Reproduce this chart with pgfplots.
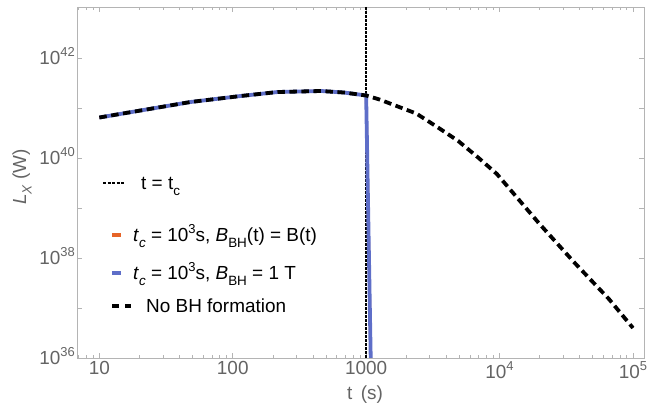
\documentclass[border=0pt]{standalone}
\usepackage{fontspec}
\setmainfont{Liberation Sans}
\usepackage{pgfplots}
\pgfplotsset{compat=1.18}
\definecolor{myorange}{RGB}{230,100,40}
\definecolor{myblue}{RGB}{94,110,200}
\definecolor{framegray}{RGB}{180,180,180}
\definecolor{labgray}{RGB}{100,100,100}
\newcommand\sups[1]{\raisebox{0.45em}{\fontsize{13}{14}\selectfont #1}}
\newcommand\subs[1]{\raisebox{-0.28em}{\fontsize{13.5}{14}\selectfont #1}}
\newcommand\fs{\fontsize{19}{21}\selectfont}
\begin{document}
\begin{tikzpicture}
\begin{axis}[
  at={(0,0)}, anchor=south west,
  scale only axis, width=567bp, height=351bp,
  xmode=log, ymode=log,
  xmin=6.8, xmax=1.21e5, ymin=1e36, ymax=1.05e43,
  axis line style={framegray, line width=0.8bp},
  every tick/.style={framegray, line width=0.8bp},
  major tick length=5bp, minor tick length=3bp,
  xtick={10,100,1000,10000,100000},
  xticklabels={10,100,1000,10\sups{4},10\sups{5}},
  minor xtick={7,8,9,20,30,40,50,60,70,80,90,200,300,400,500,600,700,800,900,2000,3000,4000,5000,6000,7000,8000,9000,20000,30000,40000,50000,60000,70000,80000,90000},
  ytick={1e36,1e37,1e38,1e39,1e40,1e41,1e42},
  yticklabels={10\sups{36},,10\sups{38},,10\sups{40},,10\sups{42}},
  yminorticks=false,
  tick label style={font=\fs, color=labgray},
  yticklabel style={anchor=base east, yshift=-6.8bp, inner sep=2bp},
  xticklabel style={inner sep=3bp},
  xlabel={t\hspace{0.45em}(s)},
  ylabel={\textit{L}\subs{\textit{X}} (W)},
  label style={font=\fs, color=labgray},
  xlabel style={at={(axis description cs:0.508,-0.105)}, anchor=center},
  ylabel style={at={(axis description cs:-0.097,0.516)}, anchor=center},
  clip=true,
]
% vertical line t = t_c
\addplot[black, line width=1.5bp, dash pattern=on 2.5bp off 1.5bp] coordinates {(1000,1e36) (1000,1.05e43)};
% orange: t_c = 10^3 s, B_BH(t) = B(t)
\addplot[myorange, line width=2.6bp] coordinates {
(10,6.46e40) (20.3,8.91e40) (48.3,1.32e41) (114.8,1.74e41) (216.8,2.09e41)
(459,2.19e41) (684,2.04e41) (1000,1.78e41) (1090,3.16e35)};
% blue: t_c = 10^3 s, B_BH = 1 T
\addplot[myblue, line width=3.8bp] coordinates {
(10,6.46e40) (20.3,8.91e40) (48.3,1.32e41) (114.8,1.74e41) (216.8,2.09e41)
(459,2.19e41) (684,2.04e41) (1000,1.78e41) (1090,3.16e35)};
% black dashed: no BH formation
\addplot[black, line width=3.8bp, dash pattern=on 7.5bp off 4.5bp] coordinates {
(10,6.46e40) (20.3,8.91e40) (48.3,1.32e41) (114.8,1.74e41) (216.8,2.09e41)
(459,2.19e41) (684,2.04e41) (1000,1.78e41) (1259,1.48e41) (2377,7.76e40)
(3459,4.07e40) (4898,2.19e40) (6918,1.02e40) (9550,4.79e39) (14125,1.41e39)
(19953,4.79e38) (36644,7.94e37) (66069,1.51e37) (100000,3.98e36)};
\end{axis}
% legend
\draw[black, line width=1.3bp, dash pattern=on 3bp off 1.5bp] (26bp,175bp) -- (48bp,175bp);
\node[anchor=base west, inner sep=0pt, font=\fs] at (64bp,168bp) {t = t\subs{c}};
\draw[myorange, line width=3.8bp] (35bp,123bp) -- (44bp,123bp);
\node[anchor=base west, inner sep=0pt, font=\fs] at (56bp,116bp) {\textit{t}\subs{\textit{c}} = 10\sups{3}s, \textit{B}\subs{BH}(t) = B(t)};
\draw[myblue, line width=3.8bp] (35bp,85bp) -- (44bp,85bp);
\node[anchor=base west, inner sep=0pt, font=\fs] at (56bp,78bp) {\textit{t}\subs{\textit{c}} = 10\sups{3}s, \textit{B}\subs{BH} = 1 T};
\draw[black, line width=3.8bp, dash pattern=on 6.5bp off 6.5bp] (35bp,52bp) -- (54bp,52bp);
\node[anchor=base west, inner sep=0pt, font=\fs] at (69bp,45bp) {No BH formation};
\pgfresetboundingbox
\path[use as bounding box] (-77bp,-55bp) rectangle (591bp,358bp);
\end{tikzpicture}
\end{document}
